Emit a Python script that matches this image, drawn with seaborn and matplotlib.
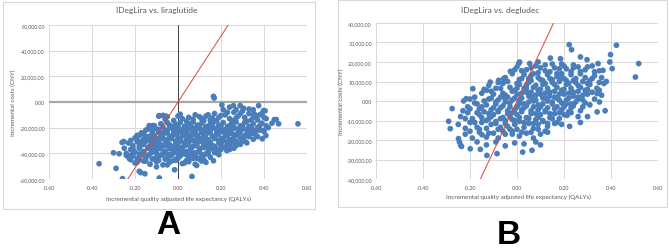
import matplotlib
matplotlib.use("Agg")
import matplotlib.pyplot as plt
import matplotlib.ticker as mticker
from matplotlib.patches import Rectangle
import seaborn as sns
import pandas as pd

sns.set_theme(style="white")
plt.rcParams['font.family'] = ['Lato', 'DejaVu Sans']

# ---------------- data ----------------
titles = ["IDegLira vs. liraglutide", "IDegLira vs. degludec"]
panel_letters = ["A", "B"]
x_label = "Incremental quality adjusted life expectancy (QALYs)"
y_label = "Incremental costs (CNY)"
wtp = 257000  # slope of the red threshold line (CNY per QALY)

x_ticks = [-0.6, -0.4, -0.2, 0.0, 0.2, 0.4, 0.6]
a_y_ticks = [-60000, -40000, -20000, 0, 20000, 40000, 60000]
b_y_ticks = [-40000, -30000, -20000, -10000, 0, 10000, 20000, 30000, 40000]

# Panel A: incremental QALYs
a_qaly = [
    -0.367, -0.30, -0.288, -0.274, -0.258, -0.252, -0.24, -0.227, -0.18, -0.173, -0.154, -0.087,
    -0.016, 0.065, 0.087, 0.165, 0.165, 0.168, 0.375, 0.398, 0.405, 0.558, 0.468, 0.448, 0.457,
    0.437, 0.409, 0.392, 0.398, 0.32, 0.266, 0.24, 0.227, 0.204, 0.258, 0.289, 0.305, 0.355,
    -0.087, -0.068, -0.056, -0.134, -0.118, -0.193, -0.25, -0.24, -0.26, -0.22, -0.2, -0.23,
    -0.1, -0.05, 0.03, 0.12, 0.19, 0.25, 0.29, 0.42, 0.41, 0.39, 0.35, 0.33, 0.24, 0.27,
    -0.09, -0.07, -0.05, 0.0, 0.02, 0.05, 0.08, 0.11, 0.13, 0.15, 0.17, 0.19, 0.21, 0.22, 0.24,
    0.26, 0.28, 0.30, 0.31, 0.33, 0.34, 0.36, 0.38,
    -0.13, -0.11, -0.08, -0.05, -0.03, -0.01, 0.01, 0.03, 0.05, 0.07, 0.09, 0.11, 0.13, 0.15,
    0.17, 0.19, 0.21, 0.23, 0.25, 0.27, 0.29, 0.31, 0.33, 0.35, 0.37, 0.39, 0.41,
    -0.17, -0.15, -0.12, -0.10, -0.08, -0.06, -0.04, -0.02, 0.0, 0.02, 0.04, 0.06, 0.08, 0.10,
    0.12, 0.14, 0.16, 0.18, 0.20, 0.22, 0.24, 0.26, 0.28, 0.30, 0.32, 0.34, 0.36, 0.38,
    -0.20, -0.18, -0.16, -0.14, -0.12, -0.10, -0.08, -0.06, -0.04, -0.02, 0.0, 0.02, 0.04, 0.06,
    0.08, 0.10, 0.12, 0.14, 0.16, 0.18, 0.20, 0.22, 0.24, 0.26, 0.28, 0.30, 0.33, 0.35,
    -0.23, -0.21, -0.19, -0.17, -0.15, -0.13, -0.11, -0.09, -0.07, -0.05, -0.03, -0.01, 0.01,
    0.03, 0.05, 0.07, 0.09, 0.11, 0.13, 0.15, 0.17, 0.19, 0.21, 0.23, 0.25, 0.27, 0.29,
    -0.22, -0.20, -0.18, -0.16, -0.14, -0.12, -0.10, -0.08, -0.06, -0.04, -0.02, 0.0, 0.02,
    0.04, 0.06, 0.08, 0.10, 0.12, 0.14, 0.16, 0.18, 0.20, 0.23,
    -0.21, -0.19, -0.17, -0.15, -0.13, -0.11, -0.09, -0.07, -0.05, -0.03, -0.01, 0.01, 0.03,
    0.05, 0.07, 0.09, 0.11, 0.13, 0.15,
    -0.19, -0.16, -0.13, -0.10, -0.07, -0.04, -0.01, 0.02, 0.05, 0.08, 0.11,
    -0.06, -0.02, 0.01, 0.04, 0.07, 0.10, 0.12, 0.14, 0.16, 0.18, 0.20, 0.23, 0.25, 0.27,
    0.29, 0.32, 0.35, 0.37, 0.40,
    -0.14, -0.12, -0.09, -0.07, -0.04, -0.02, 0.0, 0.02, 0.04, 0.06, 0.08, 0.10, 0.12, 0.14,
    0.16, 0.18, 0.20, 0.22, 0.24, 0.26, 0.28, 0.30, 0.32, 0.34, 0.36, 0.38, 0.40,
    -0.19, -0.16, -0.13, -0.11, -0.09, -0.07, -0.05, -0.03, -0.01, 0.01, 0.03, 0.05, 0.07,
    0.09, 0.11, 0.13, 0.15, 0.17, 0.19, 0.21, 0.23, 0.25, 0.27, 0.29, 0.31, 0.34, 0.37,
    -0.22, -0.19, -0.17, -0.15, -0.13, -0.11, -0.09, -0.07, -0.05, -0.03, -0.01, 0.01, 0.03,
    0.05, 0.07, 0.09, 0.11, 0.13, 0.15, 0.17, 0.19, 0.21, 0.23, 0.25, 0.27, 0.29, 0.31,
    -0.21, -0.18, -0.16, -0.14, -0.12, -0.10, -0.08, -0.06, -0.04, -0.02, 0.0, 0.02, 0.04,
    0.06, 0.08, 0.10, 0.12, 0.14, 0.16, 0.18, 0.20, 0.22, 0.24, 0.26,
    -0.21, -0.18, -0.16, -0.14, -0.12, -0.10, -0.08, -0.06, -0.04, -0.02, 0.0, 0.02, 0.04,
    0.06, 0.08, 0.10, 0.12, 0.14, 0.17, 0.19,
    -0.18, -0.15, -0.12, -0.09, -0.06, -0.03, 0.0, 0.04, 0.07, 0.10, 0.13,
]
# Panel A: incremental costs (CNY)
a_cost = [
    -48100, -39600, -51700, -40300, -59700, -30800, -41600, -44000, -54000, -55000, -55900, -59200,
    -52800, -58000, -49400, -45800, 4400, 3100, -2800, -6700, -6900, -17000, -17000, -13700, -13700,
    -16500, -26100, -28700, -22200, -31800, -33900, -37000, -37800, -2300, -2800, -2800, -4900, -9300,
    -10600, -10600, -11100, -18400, -18400, -27400, -36000, -40000, -31500, -45000, -47500, -42000,
    -50500, -49000, -47500, -45000, -41000, -35500, -33000, -20000, -13000, -9000, -6000, -5500, -4000, -6000,
    -11000, -10500, -11500, -11000, -13000, -12000, -10000, -13000, -11000, -14000, -9000, -12000, -6000, -10000, -13000,
    -8000, -11000, -7000, -12000, -9000, -14000, -12000, -10000,
    -19000, -18500, -17000, -16000, -19000, -17500, -16000, -19000, -17000, -15500, -18000, -16500, -19000, -17000,
    -15000, -18000, -16000, -19000, -17000, -15500, -18500, -16000, -19000, -17000, -20000, -16500, -18500,
    -24000, -22000, -23500, -21000, -24000, -22000, -20500, -23000, -21500, -24500, -22000, -20500, -23500, -21000,
    -24000, -22000, -20500, -23000, -21500, -24500, -22000, -20500, -23500, -21000, -24500, -22500, -25000, -22000,
    -28000, -26000, -29000, -27000, -25500, -28500, -26500, -29500, -27000, -25500, -28000, -26500, -29500, -27000,
    -25500, -28500, -26500, -29500, -27000, -25500, -28500, -26500, -29500, -27000, -25500, -28500, -27000, -29000,
    -32000, -34000, -31000, -33500, -30500, -34000, -32000, -30500, -33500, -31500, -34500, -32000, -30500,
    -33500, -31500, -34500, -32000, -30500, -33500, -31500, -34500, -32000, -30500, -33500, -31000, -34000, -32000,
    -37000, -39000, -36000, -38500, -35500, -39000, -37000, -35500, -38500, -36500, -39500, -37000, -35500,
    -38500, -36500, -39500, -37000, -35500, -38500, -36500, -39000, -37000, -36000,
    -42000, -44000, -41000, -43500, -40500, -44000, -42000, -40500, -43500, -41500, -44500, -42000, -40500,
    -43500, -41500, -44000, -42000, -40500, -43000,
    -47000, -46000, -48500, -46500, -49000, -47000, -45500, -48000, -46500, -48500, -46000,
    -13500, -14500, -9500, -15000, -13500, -11500, -14500, -10000, -12500, -14500, -10500, -8000, -14500, -12500,
    -9000, -15000, -10500, -14000, -12000,
    -21000, -20000, -21500, -19500, -18000, -20500, -19000, -21500, -18500, -19000, -20500, -18500, -21500, -19500,
    -18000, -20500, -19000, -21500, -18500, -19500, -21000, -19000, -21500, -19500, -22000, -18500, -23000,
    -26000, -25000, -27000, -26000, -23500, -25500, -24000, -26500, -24500, -23000, -26000, -25000, -23000,
    -26000, -24000, -25500, -24000, -26500, -24500, -23000, -26000, -24500, -25500, -24000, -26500, -24500, -27000,
    -30000, -29500, -31000, -28000, -30000, -29000, -31500, -28500, -30000, -28500, -30500, -29000, -31500,
    -28500, -30000, -28500, -30500, -29000, -31500, -28500, -30000, -28500, -31000, -29500, -30500, -28000, -30500,
    -36000, -34500, -33000, -36000, -34500, -33500, -36500, -34000, -33000, -35500, -34000, -36500, -33500,
    -35500, -34000, -36000, -33000, -35500, -34000, -36500, -33500, -35000, -33000, -36000,
    -40000, -40500, -39500, -41500, -38000, -40000, -41500, -39500, -41000, -38000, -40500, -39000, -41000,
    -39500, -41500, -39000, -41000, -40000, -39500, -38000,
    -45000, -46000, -44500, -45500, -44500, -46000, -44000, -45500, -44000, -44500, -47000,
]

# Panel B: incremental QALYs
b_qaly = [
    -0.291, -0.284, -0.276, -0.249, -0.245, -0.24, -0.236, -0.199, -0.156, -0.128, -0.085, 0.024,
    0.064, 0.011, 0.054, 0.09, 0.142, 0.185, 0.222, 0.232, 0.27, 0.298, 0.345, 0.366, 0.395, 0.398,
    0.405, 0.423, 0.504, 0.518, 0.341, 0.351, 0.341, 0.224, 0.213, -0.227, -0.216, -0.188, -0.114,
    -0.078, -0.057, -0.028, -0.01, 0.007, -0.149, 0.38, 0.375, 0.3, 0.27, -0.13, 0.19, 0.24,
    0.04, 0.08, 0.12, 0.15, 0.18, 0.20, 0.23, 0.26, 0.29, 0.32, 0.35, 0.10, 0.0,
    -0.05, -0.02, 0.01, 0.03, 0.05, 0.07, 0.09, 0.11, 0.13, 0.15, 0.17, 0.19, 0.21, 0.23, 0.25,
    0.27, 0.29, 0.31, 0.33, 0.36,
    -0.12, -0.09, -0.06, -0.03, -0.01, 0.01, 0.03, 0.05, 0.07, 0.09, 0.11, 0.13, 0.15, 0.17,
    0.19, 0.21, 0.23, 0.25, 0.27, 0.29, 0.31, 0.34, 0.37,
    -0.18, -0.15, -0.12, -0.10, -0.08, -0.06, -0.04, -0.02, 0.0, 0.02, 0.04, 0.06, 0.08, 0.10,
    0.12, 0.14, 0.16, 0.18, 0.20, 0.22, 0.24, 0.26, 0.28, 0.30, 0.33, 0.36,
    -0.21, -0.18, -0.16, -0.13, -0.11, -0.09, -0.07, -0.05, -0.03, -0.01, 0.01, 0.03, 0.05,
    0.07, 0.09, 0.11, 0.13, 0.15, 0.17, 0.19, 0.21, 0.23, 0.25, 0.28, 0.31,
    -0.24, -0.21, -0.19, -0.16, -0.14, -0.12, -0.10, -0.08, -0.06, -0.04, -0.02, 0.0, 0.02,
    0.04, 0.06, 0.08, 0.10, 0.12, 0.14, 0.16, 0.18, 0.20, 0.23, 0.26,
    -0.25, -0.22, -0.20, -0.17, -0.15, -0.13, -0.11, -0.09, -0.07, -0.05, -0.03, -0.01, 0.01,
    0.03, 0.05, 0.07, 0.09, 0.11, 0.13, 0.16, 0.19,
    -0.22, -0.19, -0.16, -0.13, -0.10, -0.08, -0.05, -0.02, 0.01, 0.04, 0.07, 0.10, 0.13,
    -0.17, -0.13, -0.09, -0.05, -0.01, 0.03, 0.08, 0.10,
    0.02, 0.06, 0.09, 0.12, 0.14, 0.16, 0.19, 0.21, 0.24, 0.27, 0.30, 0.33, 0.06, 0.17,
    -0.08, -0.04, 0.0, 0.02, 0.04, 0.06, 0.08, 0.10, 0.12, 0.14, 0.16, 0.18, 0.20, 0.22,
    0.24, 0.26, 0.28, 0.30, 0.32, 0.35,
    -0.14, -0.11, -0.07, -0.05, -0.02, 0.0, 0.02, 0.04, 0.06, 0.08, 0.10, 0.12, 0.14, 0.16,
    0.18, 0.20, 0.22, 0.24, 0.26, 0.28, 0.30, 0.32, 0.35,
    -0.20, -0.17, -0.14, -0.11, -0.09, -0.07, -0.05, -0.03, -0.01, 0.01, 0.03, 0.05, 0.07,
    0.09, 0.11, 0.13, 0.15, 0.17, 0.19, 0.21, 0.23, 0.26, 0.29,
    -0.23, -0.20, -0.17, -0.15, -0.12, -0.10, -0.08, -0.06, -0.04, -0.02, 0.0, 0.02, 0.04,
    0.06, 0.08, 0.10, 0.12, 0.14, 0.16, 0.18, 0.20, 0.22, 0.24, 0.27,
    -0.22, -0.18, -0.15, -0.13, -0.11, -0.09, -0.07, -0.05, -0.03, -0.01, 0.01, 0.03, 0.05,
    0.07, 0.09, 0.11, 0.13, 0.15, 0.17,
    -0.20, -0.16, -0.12, -0.08, -0.06, -0.04, -0.02, 0.0, 0.02, 0.06, 0.09, 0.12,
]
# Panel B: incremental costs (CNY)
b_cost = [
    -10400, -14200, -3900, -19300, -21000, -22700, -23300, -24500, -24800, -27900, -27000, -26200,
    -25300, 20000, 19200, 20000, 22000, 21700, 28900, 26300, 22600, 21200, 19200, 15700, 20000, 23800,
    16600, 28600, 12300, 19200, -5600, -500, 3800, -13000, -7400, 0, 1200, 6300, 9700,
    10600, 11500, 15200, 16000, 19200, -17300, 10000, -5000, -8000, -11000, 5500, 19000, 17000,
    16000, 18000, 15500, 19000, 16500, 18000, 15000, 17500, 16000, 18000, 15500, 17000, 17500,
    12000, 14000, 11000, 13500, 11500, 14000, 12000, 10500, 13500, 11000, 14000, 12000, 10500, 13500, 11500,
    14000, 12000, 10500, 13000, 12000,
    8000, 6500, 9000, 7000, 5500, 8500, 6500, 9500, 7000, 5500, 8500, 6500, 9500, 7000,
    5500, 8500, 6500, 9500, 7000, 5500, 8500, 6500, 9000,
    2000, 4000, 1000, 3500, 500, 4000, 2000, 500, 3500, 1500, 4500, 2000, 500, 3500,
    1500, 4500, 2000, 500, 3500, 1500, 4500, 2000, 500, 3500, 1000, 3000,
    -3000, -1000, -4000, -2000, -4500, -1500, -3500, -500, -3000, -4500, -1500, -3500, -500,
    -3000, -4500, -1500, -3500, -500, -3000, -4500, -1500, -3500, -500, -3000, -2000,
    -8000, -6000, -9000, -7000, -5500, -9000, -7000, -5500, -8500, -6500, -9500, -7000, -5500,
    -8500, -6500, -9500, -7000, -5500, -8500, -6500, -9000, -7000, -6000, -8000,
    -12000, -14000, -11000, -13500, -11000, -14000, -12000, -10500, -13500, -11500, -14500, -12000, -10500,
    -13500, -11500, -14000, -12000, -10500, -13000, -11500, -12000,
    -17000, -19000, -16000, -18500, -16500, -19000, -17000, -15500, -18000, -16500, -19000, -17000, -16000,
    -21000, -22500, -21000, -23000, -21500, -22000, -21000, -22500,
    15500, 17000, 14500, 18500, 15000, 17000, 14000, 16500, 18500, 15000, 17500, 15000, 13000, 12500,
    9500, 10000, 9000, 11500, 8000, 10500, 8000, 11000, 9000, 11500, 8500, 10000, 11500, 9000,
    10500, 8000, 10000, 9000, 11500, 9500,
    6000, 5000, 6500, 3000, 5000, 6500, 4000, 6500, 4500, 3000, 6000, 4000, 2500, 5000,
    3500, 6000, 4000, 2500, 5000, 3000, 6000, 4500, 5500,
    1000, -1500, 0, 1500, -500, 2000, 1000, -1000, 1500, 0, -1500, 2500, 0,
    -2000, 1500, 0, -1500, 1500, -1000, 500, -1500, 1000, -1000,
    -5000, -4000, -6000, -3000, -6500, -3500, -5000, -2500, -5000, -6000, -3000, -4500, -2500,
    -5000, -6500, -3000, -5000, -6500, -4000, -6000, -3000, -5500, -2500, -5000,
    -9000, -11000, -8500, -10000, -8000, -11500, -9000, -10000, -8000, -10000, -8500, -11000, -9000,
    -11500, -8500, -10000, -11500, -9000, -11000,
    -15500, -14500, -16500, -14500, -15500, -13000, -17000, -14500, -16000, -16000, -14500, -15500,
]

# ---------------- style ----------------
W, H = 669, 251
fig = plt.figure(figsize=(W / 100, H / 100), dpi=100)
fig.patch.set_facecolor("white")

dot_color = "#4A7EBB"
line_color = "#D8473A"
grid_color = "#D9D9D9"
text_color = "#595959"

def fx(px):
    return px / W

def fy(py):
    return 1 - py / H

panels = [
    dict(box=(3, 3, 315, 210), plot=(49, 26, 307, 180), qaly=a_qaly, cost=a_cost,
         yticks=a_y_ticks, title_xy=(157, 11), xlab_xy=(178, 199), ylab_xy=(13, 103),
         letter_xy=(168, 226), zero_axes=True),
    dict(box=(338, 1, 667, 208), plot=(376, 24, 658, 180), qaly=b_qaly, cost=b_cost,
         yticks=b_y_ticks, title_xy=(500, 11), xlab_xy=(518, 197), ylab_xy=(341, 102),
         letter_xy=(509, 236), zero_axes=False),
]

for i, p in enumerate(panels):
    bx0, by0, bx1, by1 = p["box"]
    fig.patches.append(Rectangle((fx(bx0), fy(by1)), fx(bx1 - bx0), (by1 - by0) / H,
                                 transform=fig.transFigure, facecolor="none",
                                 edgecolor=grid_color, lw=0.8, zorder=-5))
    x0, y0, x1, y1 = p["plot"]
    ax = fig.add_axes([fx(x0), fy(y1), fx(x1 - x0), (y1 - y0) / H])
    ax.set_facecolor("none")
    df = pd.DataFrame({"qaly": p["qaly"], "cost": p["cost"]})
    ax.set_xlim(x_ticks[0], x_ticks[-1])
    ax.set_ylim(p["yticks"][0], p["yticks"][-1])
    ax.set_xticks(x_ticks)
    ax.set_yticks(p["yticks"])
    ax.grid(True, color=grid_color, lw=0.7, zorder=0)
    ax.set_axisbelow(True)
    for s in ax.spines.values():
        s.set_visible(False)
    if p["zero_axes"]:
        ax.axhline(0, color="#A6A6A6", lw=1.6, zorder=1)
        ax.axvline(0, color="#404040", lw=0.7, zorder=1)
    sns.scatterplot(data=df, x="qaly", y="cost", ax=ax, color=dot_color, s=17,
                    edgecolor="none", linewidth=0, zorder=3, legend=False)
    ax.axline((0, 0), slope=wtp, color=line_color, lw=0.7, zorder=4)
    ax.xaxis.set_major_formatter(mticker.FuncFormatter(lambda v, _: f"{v:.2f}"))
    ax.yaxis.set_major_formatter(mticker.FuncFormatter(lambda v, _: f"{v:,.2f}"))
    ax.tick_params(axis="both", length=0, labelsize=3.9, colors=text_color)
    ax.tick_params(axis="x", pad=4.5)
    ax.tick_params(axis="y", pad=3)
    ax.set_xlabel("")
    ax.set_ylabel("")

    fig.text(fx(p["title_xy"][0]), fy(p["title_xy"][1]), titles[i], ha="center", va="center",
             fontsize=6.0, color=text_color)
    fig.text(fx(p["xlab_xy"][0]), fy(p["xlab_xy"][1]), x_label, ha="center", va="center",
             fontsize=4.5, color=text_color)
    fig.text(fx(p["ylab_xy"][0]), fy(p["ylab_xy"][1]), y_label, ha="center", va="center",
             fontsize=4.5, color=text_color, rotation=90)
    fig.text(fx(p["letter_xy"][0]), fy(p["letter_xy"][1]), panel_letters[i], ha="center",
             va="center", fontsize=24, fontweight="bold", color="black",
             family=["Liberation Sans", "DejaVu Sans"])

fig.savefig("out.png", dpi=100, facecolor="white")
